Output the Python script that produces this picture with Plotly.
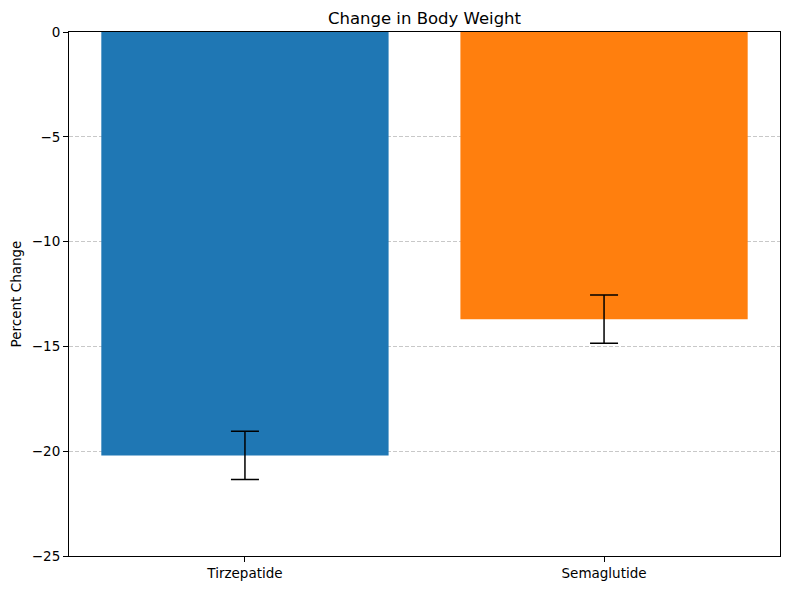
import plotly.graph_objects as go

categories = ["Tirzepatide", "Semaglutide"]
values = [-20.2, -13.7]
errors = [1.15, 1.15]
colors = ["#1f77b4", "#ff7f0e"]
ytick_vals = [0, -5, -10, -15, -20, -25]
ytick_text = ["0", "\u22125", "\u221210", "\u221215", "\u221220", "\u221225"]

font = "DejaVu Sans"
W, H = 781, 582

fig = go.Figure()
fig.add_trace(go.Bar(
    x=categories,
    y=values,
    marker=dict(color=colors, line=dict(width=0)),
    error_y=dict(type="data", array=errors, visible=True,
                 color="black", thickness=1.5, width=14),
    width=0.8,
))

fig.update_layout(
    width=W, height=H,
    margin=dict(l=61, r=9, t=24, b=34, autoexpand=False),
    paper_bgcolor="white",
    plot_bgcolor="white",
    showlegend=False,
    font=dict(family=font, size=13.5, color="black"),
    title=dict(text="Change in Body Weight", x=0.5, xref="paper", xanchor="center",
               y=1 - 10 / H, yanchor="middle",
               font=dict(family=font, size=16.5, color="black")),
)

fig.update_xaxes(
    type="category",
    range=[-0.49, 1.49],
    automargin=False,
    showline=True, mirror=True, linecolor="black", linewidth=1,
    ticks="outside", ticklen=5, tickcolor="black",
    showgrid=False, zeroline=False,
)
fig.update_yaxes(
    range=[-25, 0],
    automargin=False,
    tickvals=ytick_vals, ticktext=ytick_text,
    showline=True, mirror=True, linecolor="black", linewidth=1,
    ticks="outside", ticklen=5, tickcolor="black",
    showgrid=True, gridcolor="rgba(176,176,176,0.7)", gridwidth=1,
    griddash="4px,2px",
    zeroline=False,
    layer="above traces",
    title=dict(text="Percent Change", standoff=8,
               font=dict(family=font, size=13.5)),
)

fig.write_html("out.html")
